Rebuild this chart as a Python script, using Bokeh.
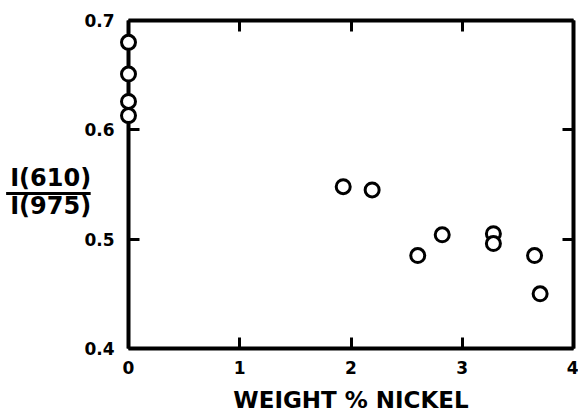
from bokeh.plotting import figure
from bokeh.models import LinearAxis, FixedTicker
from bokeh.core.properties import value
from bokeh.embed import file_html
from bokeh.resources import INLINE

# data
nickel = [0.0, 0.0, 0.0, 0.0, 1.93, 2.19, 2.60, 2.82, 3.28, 3.28, 3.65, 3.70]
ratio = [0.680, 0.651, 0.626, 0.613, 0.548, 0.545, 0.485, 0.504, 0.505, 0.496, 0.485, 0.450]

x_ticks = [0, 1, 2, 3, 4]
y_ticks = [0.4, 0.5, 0.6, 0.7]
x_title = "WEIGHT % NICKEL"
y_num = "I(610)"
y_den = "I(975)"

FONT = "DejaVu Sans"

p = figure(width=578, height=415, x_range=(0, 4), y_range=(0.4, 0.7),
           output_backend="svg", toolbar_location=None,
           x_axis_location=None, y_axis_location=None,
           min_border_left=128, min_border_right=5, min_border_top=20,
           min_border_bottom=67)
p.grid.visible = False
p.outline_line_color = None
p.background_fill_color = "white"
p.border_fill_color = "white"


def style(ax, labels=True):
    ax.axis_line_width = 4
    ax.axis_line_color = "black"
    ax.major_tick_in = 11
    ax.major_tick_out = 0
    ax.major_tick_line_width = 3
    ax.major_tick_line_color = "black"
    ax.minor_tick_line_color = None
    ax.major_label_text_font = FONT
    ax.major_label_text_font_style = "bold"
    if labels:
        ax.major_label_text_font_size = "17px"
        ax.major_label_text_color = "black"
    else:
        ax.major_label_text_font_size = "1px"
        ax.major_label_text_color = None
        ax.major_label_standoff = 0


bottom = LinearAxis(ticker=FixedTicker(ticks=x_ticks))
style(bottom)
bottom.major_label_standoff = 12
bottom.axis_label = x_title
bottom.axis_label_text_font = FONT
bottom.axis_label_text_font_style = "bold"
bottom.axis_label_text_font_size = "23px"
bottom.axis_label_text_color = "black"
bottom.axis_label_standoff = 10
p.add_layout(bottom, "below")

left = LinearAxis(ticker=FixedTicker(ticks=y_ticks))
style(left)
left.major_label_standoff = 14
p.add_layout(left, "left")

top = LinearAxis(ticker=FixedTicker(ticks=x_ticks))
style(top, labels=False)
p.add_layout(top, "above")

right = LinearAxis(ticker=FixedTicker(ticks=y_ticks))
style(right, labels=False)
p.add_layout(right, "right")

r = p.scatter(nickel, ratio, marker="circle", size=14, line_width=3,
              line_color="black", fill_color="white")
r.level = "overlay"

# y-axis label drawn as a fraction to the left of the frame
t = p.text(x=[-0.70, -0.70], y=[0.5560, 0.5300], text=[y_num, y_den],
           text_align="center", text_baseline="alphabetic",
           text_font=value(FONT), text_font_style="bold",
           text_font_size="24px", text_color="black")
t.level = "overlay"
s = p.segment(x0=[-1.10], x1=[-0.34], y0=[0.5417], y1=[0.5417],
              line_width=3, line_color="black")
s.level = "overlay"

open("out.html", "w").write(file_html(p, INLINE))
